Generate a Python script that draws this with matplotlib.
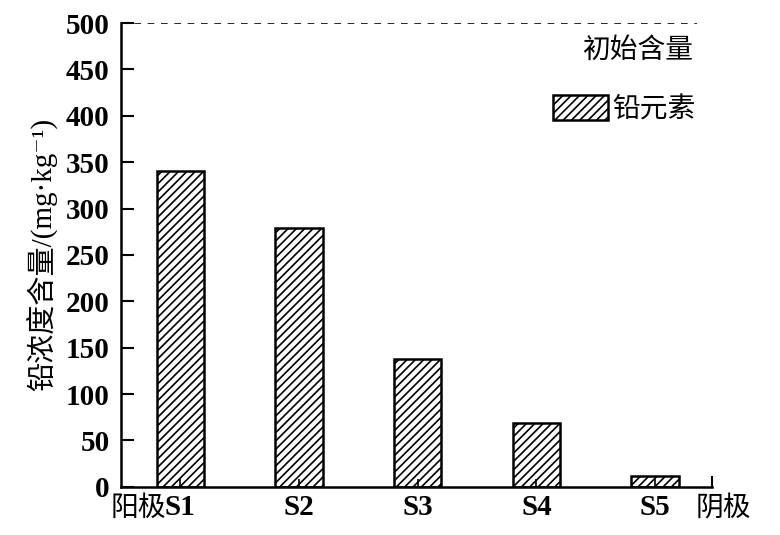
import matplotlib.pyplot as plt
import matplotlib.transforms as mtransforms
import numpy as np

plt.rcParams["font.family"] = ["Liberation Serif", "Noto Sans CJK SC", "DejaVu Serif"]
plt.rcParams["hatch.linewidth"] = 1.2

samples = ["S1", "S2", "S3", "S4", "S5"]
lead = [340, 279, 138, 69, 12]
initial = 500
yticks = [0, 50, 100, 150, 200, 250, 300, 350, 400, 450, 500]

fig = plt.figure(figsize=(7.8, 5.35), dpi=100)
ax = fig.add_axes([0.155, 0.09, 0.758, 0.867])

x = np.arange(1, len(samples) + 1)
ax.bar(x, lead, width=0.4, color="white", edgecolor="black",
       linewidth=1.8, hatch="////", label="铅元素")
ax.axhline(initial, xmin=0, xmax=0.975, color="black", ls=(0, (4, 4)), lw=1.2)
ax.text(0.968, 0.94, "初始含量", transform=ax.transAxes, ha="right",
        va="center", fontsize=20)

ax.set_xlim(0.5, 5.48)
ax.set_ylim(0, 500)
ax.set_yticks(yticks)
ax.set_xticks(x)
ax.set_xticklabels(samples)
ax.tick_params(axis="y", direction="in", length=9, width=1.5, labelsize=21,
               pad=8)
ax.tick_params(axis="x", direction="in", length=6, width=1.2, labelsize=21,
               pad=5)
for lab in ax.get_yticklabels() + ax.get_xticklabels():
    lab.set_fontweight("bold")

for s in ["top", "right"]:
    ax.spines[s].set_visible(False)
for s in ["left", "bottom"]:
    ax.spines[s].set_linewidth(1.8)
ax.plot([1, 1], [0, 0.022], transform=ax.transAxes, color="black",
        lw=1.5, clip_on=False)

left_tr = mtransforms.offset_copy(ax.get_xaxis_transform(), fig=fig,
                                  x=-14, y=0, units="dots")
ax.text(1, -0.047, "阳极", transform=left_tr, ha="right", va="center",
        fontsize=20)
ax.text(5.34, -0.047, "阴极", transform=ax.get_xaxis_transform(),
        ha="left", va="center", fontsize=20)

ax.set_ylabel("铅浓度含量/(mg·kg⁻¹)", fontsize=21, labelpad=6)

ax.legend(loc="upper right", bbox_to_anchor=(1.0, 0.88), frameon=False,
          fontsize=20, handlelength=2.0, handleheight=1.0, handletextpad=0.15,
          borderaxespad=0.2)

fig.savefig("out.png", dpi=100)
